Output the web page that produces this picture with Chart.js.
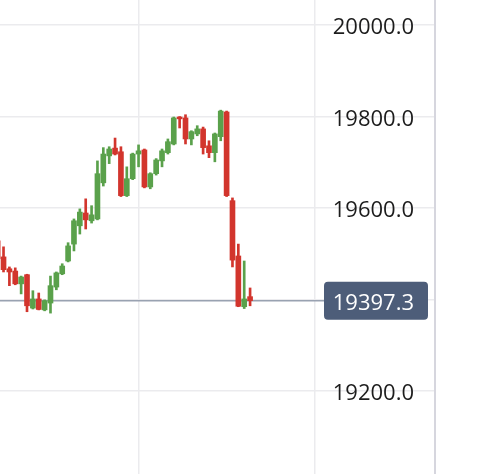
<!DOCTYPE html>
<html>
<head>
<meta charset="utf-8">
<script src="https://cdn.jsdelivr.net/npm/chart.js@4.4.1/dist/chart.umd.min.js"></script>
<style>
    html, body { margin: 0; padding: 0; background: #ffffff; }
    #wrap { width: 480px; height: 474px; position: relative; }
</style>
</head>
<body>
<div id="wrap"><canvas id="priceChart"></canvas></div>
<script>
"use strict";

// Candle slots (hour index of each candle)
var slots = [6, 7, 8, 9, 10, 11, 12, 13, 14, 15, 16, 17, 18, 19, 20, 21, 22, 23, 24, 25, 26, 27,
    28, 29, 30, 31, 32, 33, 34, 35, 36, 37, 38, 39, 40, 41, 42, 43, 44, 45, 46, 47, 48, 49];

var opens = [19528, 19493, 19467, 19462, 19434, 19454, 19381, 19401, 19377, 19392, 19427, 19456,
    19484, 19521, 19561, 19589, 19572, 19576, 19655, 19714, 19731, 19723, 19627, 19664, 19718,
    19727, 19646, 19675, 19703, 19721, 19740, 19799, 19797, 19751, 19762, 19773, 19736, 19721,
    19756, 19810, 19616, 19495, 19384, 19406];

var highs = [19534, 19515, 19471, 19469, 19451, 19455, 19419, 19414, 19399, 19451, 19460, 19478,
    19524, 19576, 19598, 19620, 19605, 19703, 19732, 19734, 19753, 19734, 19690, 19720, 19738,
    19729, 19677, 19708, 19729, 19751, 19799, 19800, 19804, 19769, 19780, 19777, 19747, 19764,
    19814, 19812, 19622, 19521, 19484, 19425];

var lows = [19473, 19460, 19430, 19432, 19412, 19373, 19379, 19377, 19375, 19370, 19421, 19454,
    19482, 19506, 19543, 19554, 19567, 19574, 19648, 19697, 19716, 19625, 19625, 19662, 19690,
    19644, 19642, 19672, 19690, 19718, 19738, 19775, 19740, 19738, 19758, 19718, 19710, 19701,
    19747, 19625, 19471, 19384, 19380, 19386];

var closes = [19489, 19465, 19460, 19434, 19449, 19386, 19401, 19378, 19397, 19430, 19458, 19473,
    19517, 19572, 19591, 19574, 19585, 19675, 19718, 19729, 19718, 19627, 19664, 19718, 19725,
    19646, 19675, 19705, 19725, 19745, 19797, 19795, 19751, 19767, 19773, 19732, 19721, 19762,
    19812, 19627, 19486, 19385, 19401, 19397.3];

// Axis ticks
var priceTicks = [19200, 19400, 19600, 19800, 20000];
var slotTicks = [30, 60];

var upColor = "#5aa14b";
var downColor = "#d2352d";
var gridColor = "#ebebee";
var badgeColor = "#4d5d79";
var labelFont = { family: "'Open Sans', sans-serif", size: 22 };

function candleColor(ctx) {
    var i = ctx.dataIndex;
    return closes[i] >= opens[i] ? upColor : downColor;
}

function fixedTicks(values) {
    return function(scale) {
        scale.ticks = values.map(function(v) { return { value: v }; });
    };
}

function roundRect(ctx, x, y, w, h, r) {
    ctx.beginPath();
    ctx.moveTo(x + r, y);
    ctx.arcTo(x + w, y, x + w, y + h, r);
    ctx.arcTo(x + w, y + h, x, y + h, r);
    ctx.arcTo(x, y + h, x, y, r);
    ctx.arcTo(x, y, x + w, y, r);
    ctx.closePath();
}

// Last price line (under the candles) and badge (over the axis labels)
var lastPricePlugin = {
    id: "lastPrice",
    beforeDatasetsDraw: function(chart) {
        var yScale = chart.scales.y;
        var area = chart.chartArea;
        var y = yScale.getPixelForValue(closes[closes.length - 1]);
        var ctx = chart.ctx;
        ctx.save();
        ctx.strokeStyle = "#99a2b1";
        ctx.lineWidth = 1.5;
        ctx.beginPath();
        ctx.moveTo(area.left, y);
        ctx.lineTo(yScale.left - 111, y);
        ctx.stroke();
        ctx.restore();
    },
    afterDraw: function(chart) {
        var yScale = chart.scales.y;
        var last = closes[closes.length - 1];
        var y = yScale.getPixelForValue(last);
        var ctx = chart.ctx;
        ctx.save();
        ctx.fillStyle = badgeColor;
        roundRect(ctx, yScale.left - 111, y - 19, 104, 38, 4);
        ctx.fill();
        ctx.fillStyle = "#ffffff";
        ctx.font = labelFont.size + "px " + labelFont.family;
        ctx.textAlign = "right";
        ctx.textBaseline = "middle";
        ctx.fillText(last.toFixed(1), yScale.left - 21, y + 3);
        ctx.restore();
    }
};

window.onload = function() {

    var bodies = [];
    var wicks = [];

    for (let i = 0; i < slots.length; i++) {
        bodies.push({ x: slots[i], y: [opens[i], closes[i]] });
        wicks.push({ x: slots[i], y: [lows[i], highs[i]] });
    }

    var config = {
        type: "bar",
        data: {
            datasets: [
                {
                    label: "body",
                    data: bodies,
                    backgroundColor: candleColor,
                    barThickness: 5,
                    grouped: false,
                    order: 0
                },
                {
                    label: "wick",
                    data: wicks,
                    backgroundColor: candleColor,
                    barThickness: 2,
                    grouped: false,
                    order: 1
                }
            ]
        },
        plugins: [lastPricePlugin],
        options: {
            responsive: true,
            maintainAspectRatio: false,
            animation: false,
            layout: {
                padding: 0
            },
            plugins: {
                legend: { display: false },
                tooltip: { enabled: false },
                title: { display: false }
            },
            scales: {
                x: {
                    type: "linear",
                    min: 6.4,
                    max: 80.5,
                    offset: false,
                    afterBuildTicks: fixedTicks(slotTicks),
                    border: { display: false },
                    grid: { color: gridColor, lineWidth: 1.5, drawTicks: false, offset: false },
                    ticks: { display: false }
                },
                y: {
                    type: "linear",
                    position: "right",
                    min: 19018,
                    max: 20055,
                    afterBuildTicks: fixedTicks(priceTicks),
                    border: { display: true, color: "#d6d6de", width: 2 },
                    // tick marks kept invisible; their length sizes the axis strip
                    grid: { color: gridColor, lineWidth: 1.5, drawTicks: true, tickLength: 87, tickColor: "rgba(0,0,0,0)" },
                    ticks: {
                        mirror: true,
                        padding: -21,
                        labelOffset: 3,
                        color: "#1c1c1c",
                        font: labelFont,
                        callback: function(v) { return Number(v).toFixed(1); }
                    }
                }
            }
        }
    };

    var ctx = document.getElementById("priceChart").getContext("2d");
    new Chart(ctx, config);
};
</script>
</body>
</html>
